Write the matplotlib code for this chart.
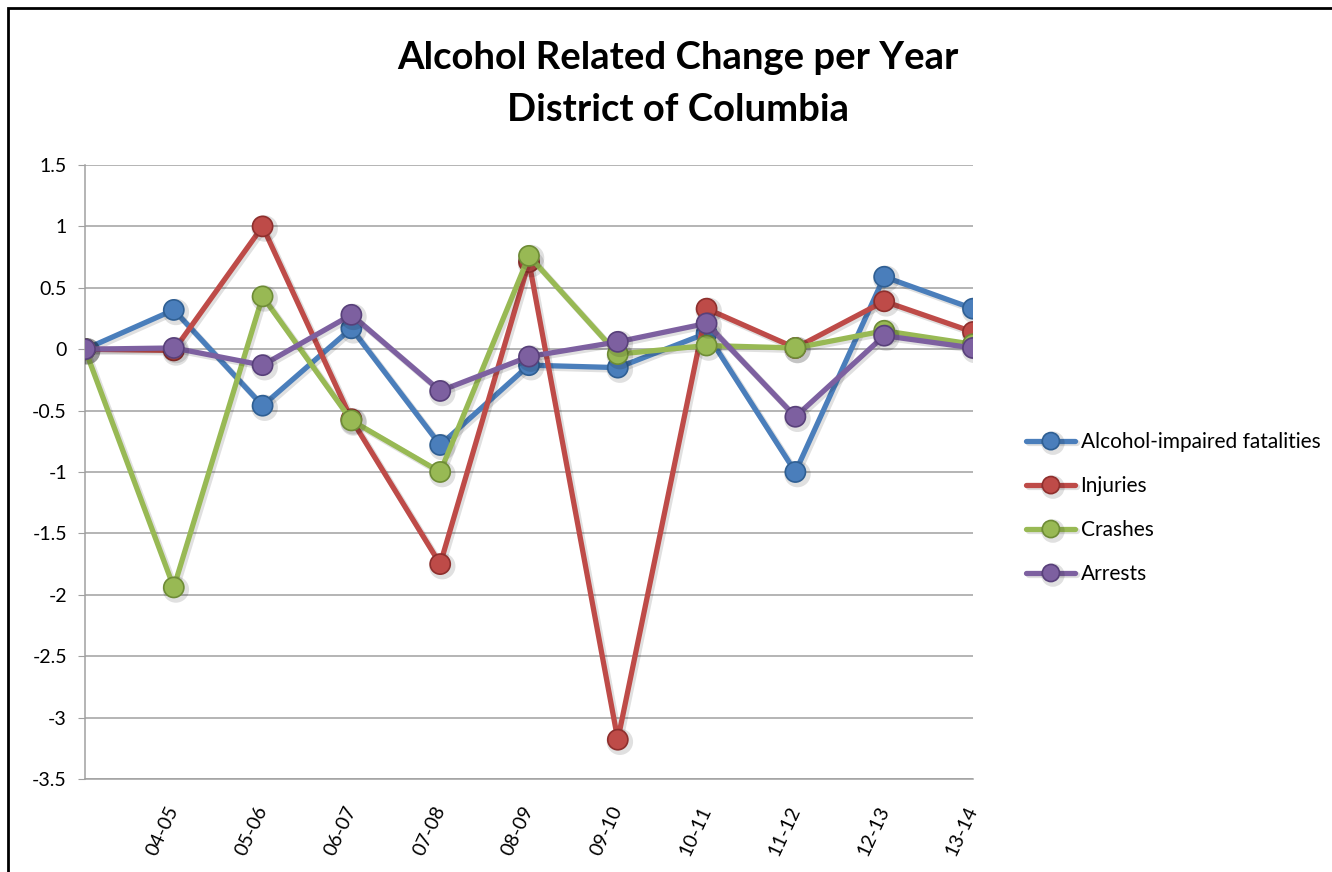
import numpy as np
import matplotlib
matplotlib.use("Agg")
import matplotlib.pyplot as plt
import matplotlib.patheffects as pe
from matplotlib.ticker import FuncFormatter, MultipleLocator
from matplotlib.patches import Rectangle

plt.rcParams['axes.unicode_minus'] = False
plt.rcParams['font.family'] = ['Lato', 'DejaVu Sans']

# data
periods = ['', '04-05', '05-06', '06-07', '07-08', '08-09', '09-10', '10-11', '11-12', '12-13', '13-14']
fatalities = [0, 0.32, -0.46, 0.17, -0.78, -0.13, -0.15, 0.13, -1.0, 0.59, 0.33]
injuries = [0, -0.01, 1.0, -0.57, -1.75, 0.71, -3.18, 0.33, 0.01, 0.39, 0.14]
crashes = [0, -1.94, 0.43, -0.58, -1.0, 0.76, -0.04, 0.03, 0.01, 0.15, 0.04]
arrests = [0, 0.01, -0.13, 0.28, -0.34, -0.06, 0.06, 0.21, -0.55, 0.11, 0.01]

series = [
    ('Alcohol-impaired fatalities', fatalities, '#4A7EBB', '#2F5F93'),
    ('Injuries', injuries, '#BE4B48', '#8E2F2D'),
    ('Crashes', crashes, '#98B954', '#6E8C36'),
    ('Arrests', arrests, '#7D60A0', '#58407A'),
]

fig = plt.figure(figsize=(13.32, 8.72), dpi=100)
ax = fig.add_axes([85/1332, 1-779/872, (973-85)/1332, (779-165)/872])

x = np.arange(len(periods))
shadow = [pe.SimpleLineShadow(offset=(1.5, -1.5), shadow_color='k', alpha=0.12, linewidth=4.5), pe.Normal()]
for name, vals, col, edge in series:
    ax.plot(x, vals, color=col, lw=3.8, marker='o', markersize=14.5,
            markerfacecolor=col, markeredgecolor=edge, markeredgewidth=1.2,
            label=name, path_effects=shadow, solid_capstyle='round', zorder=3)

ax.set_xlim(0, 10)
ax.set_ylim(-3.5, 1.5)
ax.yaxis.set_major_locator(MultipleLocator(0.5))
ax.yaxis.set_major_formatter(FuncFormatter(lambda v, p: '%g' % v))
ax.grid(axis='y', color='#A0A0A0', lw=1.1)
ax.set_axisbelow(True)
ax.set_xticks(x)
ax.set_xticklabels(periods, rotation=65, ha='right', va='center', rotation_mode='anchor')
ax.tick_params(axis='x', length=0, pad=20, labelsize=14)
ax.tick_params(axis='y', length=5, color='#A0A0A0', labelsize=14, pad=8)
for s in ['top', 'right']:
    ax.spines[s].set_visible(False)
for s in ['left', 'bottom']:
    ax.spines[s].set_color('#A0A0A0')
    ax.spines[s].set_linewidth(1.1)

fig.text(678/1332, 1-58/872, 'Alcohol Related Change per Year', ha='center', va='center',
         fontsize=27.5, fontweight='bold')
fig.text(678/1332, 1-110/872, 'District of Columbia', ha='center', va='center',
         fontsize=27.5, fontweight='bold')

fig.legend(loc='upper left', bbox_to_anchor=(1016/1332, 1-422/872), frameon=False,
           fontsize=15, handlelength=2.35, labelspacing=1.15, handletextpad=0.25,
           borderpad=0, markerscale=0.85)

# chart border
fig.patches.append(Rectangle((8/1332, -0.1), 1.2, 1-8/872+0.1, transform=fig.transFigure,
                             fill=False, ec='black', lw=2))

fig.savefig('out.png', dpi=100)
